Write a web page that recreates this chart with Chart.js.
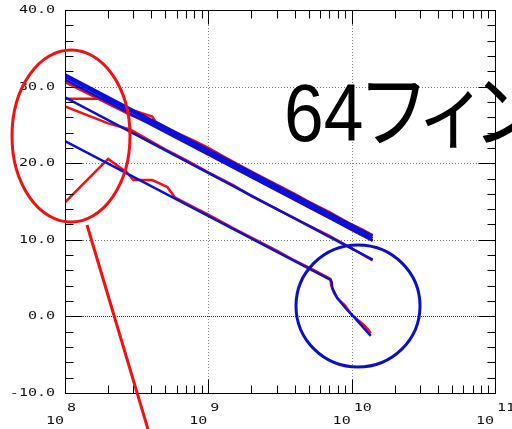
<!DOCTYPE html>
<html><head><meta charset="utf-8">
<script src="https://cdn.jsdelivr.net/npm/chart.js@4"></script>
<style>
html,body{margin:0;padding:0;background:#fff;overflow:hidden;width:512px;height:429px}
canvas{display:block}
#wrap{position:relative;width:512px;height:429px;overflow:hidden}
#note{position:absolute;left:284px;top:72px;font-size:82px;line-height:82px;font-family:'Liberation Sans','Noto Sans CJK JP',sans-serif;
  white-space:nowrap;font-feature-settings:'palt';transform:scaleX(0.87);transform-origin:0 0;color:#000}
</style>
</head><body>
<div id="wrap">
<canvas id="c" width="512" height="429"></canvas>
<div id="note">64フィン</div>
</div>
<script>
// axis
const yTicks = [-10, 0, 10, 20, 30, 40];
const yTickLabels = ["-10.0", "0.0", "10.0", "20.0", "30.0", "40.0"];
const xDecades = [1e8, 1e9, 1e10, 1e11];
const xExponents = ["8", "9", "10", "11"];

// blue traces
const bandFreq = [1e8, 1.4e10];
const blueTopA = [31.6, 10.5];
const blueTopB = [31.3, 10.2];
const blueTopC = [30.9, 9.9];
const blueMidFreq = [1e8, 1.4e10];
const blueMid = [28.6, 7.4];
const blueLowFreq = [1e8, 7.13e9, 7.25e9, 7.33e9, 7.94e9, 9.08e9, 1.04e10, 1.36e10];
const blueLow = [22.9, 4.75, 4.5, 3.7, 2.4, 1.06, -0.1, -2.55];

// red traces
const redTopAFreq = [1e8, 2.85e8, 4.06e8, 6e8, 1e9, 1.5e9, 2e9, 3e9, 5e9, 7e9, 1e10, 1.4e10];
const redTopA = [30.6, 26.3, 25.1, 23.4, 21.2, 19.5, 18.2, 16.5, 14.3, 12.9, 11.3, 9.9];
const redTopBFreq = [1e8, 1.9e8, 2.7e8, 3.0e8, 4.06e8, 4.3e8, 6e8, 8e8, 1e9, 1.3e9, 2e9, 3e9, 4e9, 5e9, 7e9, 1e10, 1.2e10, 1.4e10];
const redTopB = [28.4, 28.4, 27.1, 26.9, 26.1, 25.4, 24.0, 22.9, 22.0, 20.8, 18.9, 17.2, 16.0, 15.0, 13.6, 12.0, 11.3, 10.6];
const redMidFreq = [1e8, 2e8, 2.85e8, 5e8, 7e8, 1e9, 1.5e9, 2e9, 3e9, 5e9, 7e9, 1e10, 1.4e10];
const redMid = [27.4, 25.2, 24.4, 21.8, 20.4, 18.8, 17.1, 15.7, 14.0, 11.9, 10.5, 8.9, 7.3];
const redLowFreq = [1e8, 2e8, 2.7e8, 3.0e8, 4.06e8, 5.17e8, 5.88e8, 8e8, 1e9, 1.5e9, 2e9, 3e9, 4e9, 5e9, 6.5e9, 7.1e9, 7.2e9, 7.6e9, 8e9, 9e9, 1e10, 1.2e10, 1.3e10, 1.36e10];
const redLow = [14.9, 20.55, 18.8, 17.8, 17.8, 16.9, 15.5, 14.2, 13.3, 11.5, 10.3, 8.6, 7.3, 6.4, 5.3, 4.9, 4.0, 2.9, 2.3, 1.4, 0.2, -1.0, -1.7, -2.2];

const pts = (xs, ys) => xs.map((f, i) => ({ x: f, y: ys[i] }));
const BLUE = "#0a10d8", RED = "#f41010";
const line = (xs, ys, color, w) => ({ data: pts(xs, ys), borderColor: color, borderWidth: w, pointRadius: 0, tension: 0, fill: false });

function stretched(ctx, text, x, y, align) {
  ctx.save();
  ctx.translate(x, y);
  ctx.scale(1.5, 1);
  ctx.textAlign = align;
  ctx.fillText(text, 0, 0);
  ctx.restore();
}

const frame = {
  id: "frame",
  beforeDatasetsDraw(chart) {
    const { ctx, chartArea: a, scales: { x, y } } = chart;
    ctx.save();
    ctx.lineWidth = 1;
    yTicks.forEach(v => {
      if (v === yTicks[0] || v === yTicks[yTicks.length - 1]) return;
      const py = Math.round(y.getPixelForValue(v)) + 0.5;
      ctx.strokeStyle = v === 0 ? "#333" : "#777";
      ctx.setLineDash(v === 0 ? [1, 1] : [1, 2]);
      ctx.beginPath(); ctx.moveTo(a.left, py); ctx.lineTo(a.right, py); ctx.stroke();
    });
    xDecades.slice(1, -1).forEach(f => {
      const px = Math.round(x.getPixelForValue(f)) + 0.5;
      ctx.strokeStyle = "#888";
      ctx.setLineDash([1, 2]);
      ctx.beginPath(); ctx.moveTo(px, a.top); ctx.lineTo(px, a.bottom); ctx.stroke();
    });
    ctx.restore();
  },
  afterDraw(chart) {
    const { ctx, chartArea: a, scales: { x, y } } = chart;
    ctx.save();
    ctx.strokeStyle = "#000";
    ctx.lineWidth = 1;
    ctx.setLineDash([]);
    const L = Math.round(a.left) + 0.5, R = Math.round(a.right) + 0.5;
    const T = Math.round(a.top) + 0.5, B = Math.round(a.bottom) + 0.5;
    ctx.strokeRect(L, T, R - L, B - T);
    ctx.beginPath();
    // y ticks
    for (let v = -10; v <= 40; v += 2) {
      const py = Math.round(y.getPixelForValue(v)) + 0.5;
      const len = v % 10 === 0 ? 17 : 8;
      ctx.moveTo(L, py); ctx.lineTo(L + len, py);
      ctx.moveTo(R, py); ctx.lineTo(R - len, py);
    }
    // x ticks
    xDecades.forEach((d, i) => {
      for (let k = 1; k < 10; k++) {
        if (i === xDecades.length - 1 && k > 1) break;
        const px = Math.round(x.getPixelForValue(d * k)) + 0.5;
        const len = k === 1 ? 14 : 8;
        ctx.moveTo(px, B); ctx.lineTo(px, B - len);
        ctx.moveTo(px, T); ctx.lineTo(px, T + len);
      }
    });
    ctx.stroke();

    // tick labels
    ctx.fillStyle = "#111";
    ctx.font = "10px 'DejaVu Sans Mono'";
    ctx.textBaseline = "middle";
    yTicks.forEach((v, i) => stretched(ctx, yTickLabels[i], 55, y.getPixelForValue(v) + 0.5, "right"));
    xDecades.forEach((d, i) => {
      const px = x.getPixelForValue(d);
      stretched(ctx, "10", px - 1, 421, "right");
      stretched(ctx, xExponents[i], px + 2, 408, "left");
    });

    // annotations
    ctx.lineWidth = 3;
    ctx.strokeStyle = RED;
    ctx.beginPath(); ctx.ellipse(71, 136, 59, 86, 0, 0, Math.PI * 2); ctx.stroke();
    ctx.beginPath(); ctx.moveTo(87, 225); ctx.lineTo(150, 436); ctx.stroke();
    ctx.strokeStyle = "#0a10c8";
    ctx.beginPath(); ctx.ellipse(358, 306, 62, 61, 0, 0, Math.PI * 2); ctx.stroke();
    ctx.restore();
  }
};

new Chart(document.getElementById("c").getContext("2d"), {
  type: "line",
  data: {
    datasets: [
      line(bandFreq, blueTopA, BLUE, 2.5),
      line(bandFreq, blueTopB, BLUE, 3),
      line(bandFreq, blueTopC, BLUE, 2.5),
      line(blueMidFreq, blueMid, BLUE, 2.5),
      line(blueLowFreq, blueLow, BLUE, 2.5),
      line(redTopAFreq, redTopA, RED, 2.5),
      line(redTopBFreq, redTopB, RED, 2.5),
      line(redMidFreq, redMid, RED, 2.5),
      line(redLowFreq, redLow, RED, 2.5)
    ]
  },
  options: {
    responsive: false,
    animation: false,
    layout: { padding: { left: 65, right: 17, top: 10, bottom: 36 } },
    plugins: { legend: { display: false }, tooltip: { enabled: false } },
    scales: {
      x: { type: "logarithmic", display: false, min: 1e8, max: 1e11 },
      y: { type: "linear", display: false, min: -10, max: 40 }
    }
  },
  plugins: [frame]
});
</script></body></html>
